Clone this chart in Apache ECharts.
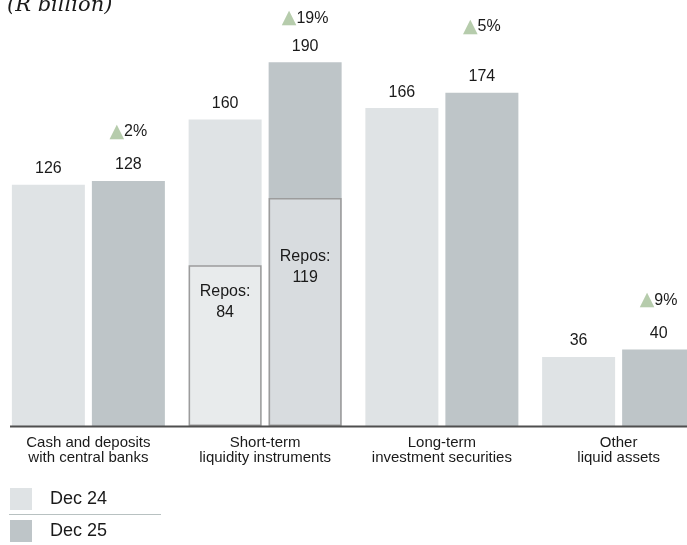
<!DOCTYPE html>
<html>
<head>
<meta charset="utf-8">
<script src="https://cdn.jsdelivr.net/npm/echarts@6/dist/echarts.min.js"></script>
<style>
  html, body { margin: 0; padding: 0; background: #ffffff; }
  #chart { width: 687px; height: 545px; }
</style>
</head>
<body>
<div id="chart"></div>
<script>
// Liquid asset categories (two-line axis labels)
const categories = [
  'Cash and deposits\nwith central banks',
  'Short-term\nliquidity instruments',
  'Long-term\ninvestment securities',
  'Other\nliquid assets'
];
const dec24 = [126, 160, 166, 36];
const dec25 = [128, 190, 174, 40];
const growth = ['2%', '19%', '5%', '9%'];
// Repurchase agreements inside short-term liquidity instruments
const repos24 = [null, 84, null, null];
const repos25 = [null, 119, null, null];

// Layout constants (label spacing)
const growthLift = [46, 36, 80, 46];
const reposPad24 = 16;
const reposPad25 = 48;

const FONT = '"Liberation Sans", Arial, sans-serif';
const C24 = '#dfe3e5';
const C25 = '#bec5c8';

const chart = echarts.init(document.getElementById('chart'));

const dec25Data = dec25.map((v, i) => ({
  value: v,
  label: {
    formatter: '{t|▲}{p|' + growth[i] + '}\n{v|' + v + '}',
    rich: {
      t: { fontFamily: '"DejaVu Sans", sans-serif', fontSize: 19, color: '#b6ccac', lineHeight: growthLift[i], verticalAlign: 'middle' },
      p: { fontFamily: FONT, fontSize: 16, color: '#1a1a1a', lineHeight: growthLift[i] },
      v: { fontFamily: FONT, fontSize: 16, color: '#1a1a1a', lineHeight: 20 }
    }
  }
}));

function reposData(arr, pad) {
  return arr.map((v) => v == null ? null : ({
    value: v,
    label: { distance: pad }
  }));
}

const barCommon = {
  type: 'bar',
  barWidth: 73,
  barGap: '9.6%'
};

const reposLabel = {
  show: true, position: 'insideTop',
  formatter: (p) => 'Repos:\n' + p.value,
  fontFamily: FONT, fontSize: 16, lineHeight: 21, color: '#1a1a1a'
};

const option = {
  animation: false,
  backgroundColor: '#ffffff',
  title: {
    text: '(R billion)',
    left: 7,
    top: -5,
    padding: 0,
    textStyle: {
      fontFamily: '"DejaVu Serif", "Liberation Serif", serif',
      fontStyle: 'italic',
      fontWeight: 'normal',
      fontSize: 21,
      color: '#1a1a1a'
    }
  },
  legend: {
    data: ['Dec 24', 'Dec 25'],
    orient: 'vertical',
    left: 10,
    top: 488,
    padding: 0,
    itemWidth: 22,
    itemHeight: 22,
    itemGap: 10,
    icon: 'rect',
    selectedMode: false,
    textStyle: {
      fontFamily: '"Liberation Sans", Arial, sans-serif',
      fontSize: 18,
      color: '#1a1a1a',
      padding: [0, 0, 0, 13]
    }
  },
  grid: { left: 0, top: 43, right: -20, bottom: 119, containLabel: false, outerBoundsMode: 'none' },
  xAxis: [
    {
      type: 'category',
      data: categories,
      axisLine: { show: false },
      axisTick: { show: false },
      axisLabel: {
        margin: 9,
        fontFamily: FONT,
        fontSize: 15,
        lineHeight: 15,
        color: '#1a1a1a',
        interval: 0
      }
    },
    {
      type: 'category',
      data: categories,
      show: false
    }
  ],
  yAxis: {
    type: 'value',
    min: 0,
    max: 200,
    show: false,
    splitLine: { show: false }
  },
  series: [
    Object.assign({}, barCommon, {
      name: 'Dec 24',
      data: dec24,
      itemStyle: { color: C24 },
      label: {
        show: true, position: 'top', distance: 8,
        fontFamily: FONT, fontSize: 16, color: '#1a1a1a'
      }
    }),
    Object.assign({}, barCommon, {
      name: 'Dec 25',
      data: dec25Data,
      itemStyle: { color: C25 },
      label: { show: true, position: 'top', distance: 6 }
    }),
    Object.assign({}, barCommon, {
      name: 'Repos Dec 24',
      xAxisIndex: 1,
      data: reposData(repos24, reposPad24),
      itemStyle: { color: '#e8ebec', borderColor: '#9c9c9c', borderWidth: 1.5 },
      label: reposLabel
    }),
    Object.assign({}, barCommon, {
      name: 'Repos Dec 25',
      xAxisIndex: 1,
      data: reposData(repos25, reposPad25),
      itemStyle: { color: '#d8dcdf', borderColor: '#9c9c9c', borderWidth: 1.5 },
      label: reposLabel
    })
  ],
  graphic: [
    // baseline under the bars
    { type: 'line', shape: { x1: 10, y1: 426.5, x2: 687, y2: 426.5 }, style: { stroke: '#4f4f4f', lineWidth: 2 }, z: 100 },
    // divider between legend entries
    { type: 'line', shape: { x1: 9, y1: 514.5, x2: 161, y2: 514.5 }, style: { stroke: '#b8c1c1', lineWidth: 1 } }
  ]
};

chart.setOption(option);
</script>
</body>
</html>
